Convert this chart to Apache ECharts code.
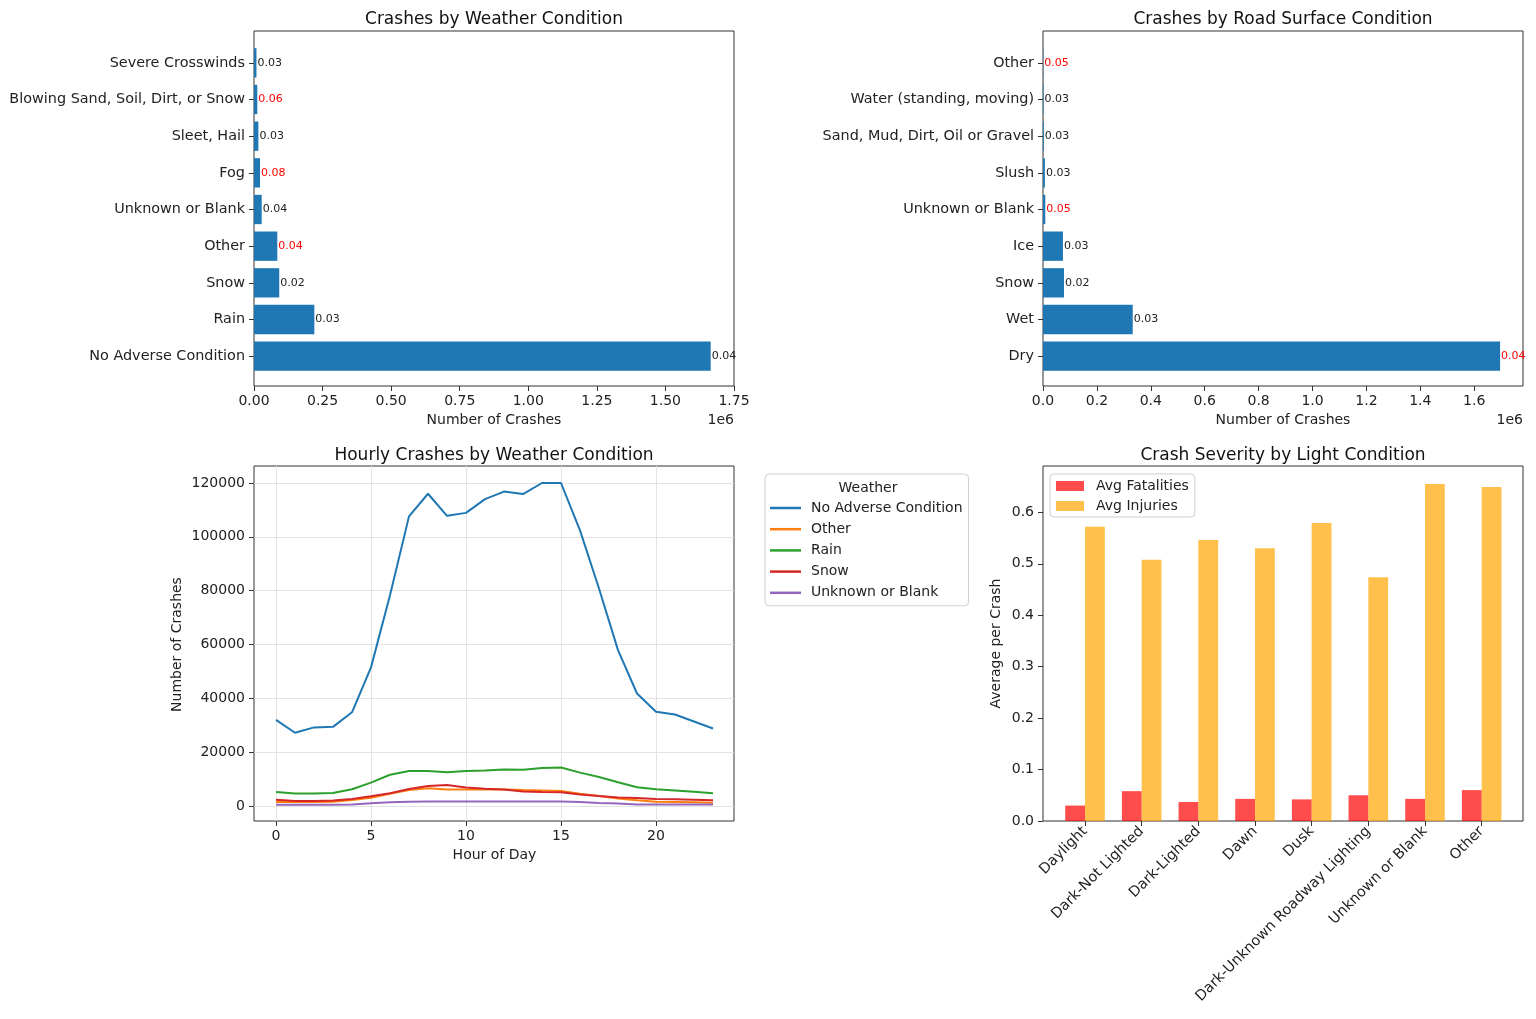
<!DOCTYPE html>
<html>
<head>
<meta charset="utf-8">
<script src="https://cdn.jsdelivr.net/npm/echarts@6/dist/echarts.min.js"></script>
<style>
  html, body { margin: 0; padding: 0; background: #fff; }
  #chart { width: 1536px; height: 1019px; }
</style>
</head>
<body>
<div id="chart"></div>
<script>
// ---- data -----------------------------------------------------------------
const weatherCats = ['Severe Crosswinds', 'Blowing Sand, Soil, Dirt, or Snow', 'Sleet, Hail', 'Fog',
  'Unknown or Blank', 'Other', 'Snow', 'Rain', 'No Adverse Condition'];
const weatherCrashes = [9000, 12000, 16000, 22000, 28000, 85000, 92000, 220000, 1665000];
const weatherFatalRate = [0.03, 0.06, 0.03, 0.08, 0.038, 0.044, 0.02, 0.03, 0.036];

const surfaceCats = ['Other', 'Water (standing, moving)', 'Sand, Mud, Dirt, Oil or Gravel', 'Slush',
  'Unknown or Blank', 'Ice', 'Snow', 'Wet', 'Dry'];
const surfaceCrashes = [1000, 2000, 3000, 7000, 8500, 74000, 78000, 333000, 1696000];
const surfaceFatalRate = [0.05, 0.03, 0.03, 0.03, 0.05, 0.03, 0.02, 0.03, 0.042];

const hours = ['0', '1', '2', '3', '4', '5', '6', '7', '8', '9', '10', '11',
  '12', '13', '14', '15', '16', '17', '18', '19', '20', '21', '22', '23'];
const hourlyNoAdverse = [32000, 27200, 29200, 29400, 34800, 51500, 78300, 107600, 116000, 107800, 108900, 114000,
  116800, 115900, 120000, 120000, 102400, 80800, 57900, 41800, 35000, 34000, 31400, 28800];
const hourlyOther = [1500, 1500, 1500, 1600, 2200, 3100, 4500, 5900, 6600, 6100, 6100, 6200,
  6100, 5900, 5800, 5600, 4600, 3700, 2800, 2100, 1600, 1500, 1400, 1200];
const hourlyRain = [5200, 4600, 4600, 4800, 6200, 8700, 11600, 13000, 13000, 12500, 13000, 13200,
  13600, 13500, 14100, 14300, 12400, 10800, 8800, 7000, 6200, 5800, 5300, 4700];
const hourlySnow = [2350, 1900, 1900, 2000, 2600, 3600, 4700, 6300, 7400, 7800, 6900, 6400,
  6100, 5400, 5200, 5100, 4300, 3700, 3200, 3000, 2600, 2500, 2350, 2100];
const hourlyUnknown = [500, 500, 500, 500, 600, 1000, 1400, 1600, 1700, 1700, 1700, 1700,
  1700, 1700, 1700, 1700, 1500, 1100, 900, 600, 600, 600, 600, 600];

const lightCats = ['Daylight', 'Dark-Not Lighted', 'Dark-Lighted', 'Dawn', 'Dusk',
  'Dark-Unknown Roadway Lighting', 'Unknown or Blank', 'Other'];
const avgFatalities = [0.030, 0.058, 0.037, 0.043, 0.042, 0.050, 0.043, 0.060];
const avgInjuries = [0.572, 0.508, 0.546, 0.530, 0.579, 0.474, 0.655, 0.649];

// ---- helpers --------------------------------------------------------------
const FONT = 'DejaVu Sans';
const ink = '#222';
const spine = '#333';

function rateItems(values, rates) {
  return values.map((v, i) => ({
    value: v,
    label: { color: rates[i] > 0.04 ? '#ff0000' : ink, formatter: rates[i].toFixed(2) }
  }));
}

function frameGrid(left, top) {
  return { left: left, top: top, width: 480, height: 355, show: true,
    borderColor: spine, borderWidth: 1, backgroundColor: 'transparent' };
}

const tick = { show: true, length: 5, lineStyle: { color: spine } };
const label = { color: ink, fontFamily: FONT, fontSize: 14 };
const nameStyle = { color: ink, fontFamily: FONT, fontSize: 14 };

function hiddenValue(gridIndex, min, max) {
  return { type: 'value', gridIndex: gridIndex, show: false, min: min, max: max };
}

const chart = echarts.init(document.getElementById('chart'));

const option = {
  animation: false,
  backgroundColor: '#fff',
  textStyle: { fontFamily: FONT },
  grid: [
    frameGrid(254, 31),                                   // 0 weather frame
    { left: 254, top: 44.5, width: 480, height: 330 },    // 1 weather bars
    frameGrid(1043, 31),                                  // 2 surface frame
    { left: 1043, top: 44.5, width: 480, height: 330 },   // 3 surface bars
    frameGrid(254, 466),                                  // 4 hourly frame
    { left: 254, top: 483, width: 480, height: 323 },     // 5 hourly y axis
    { left: 276, top: 466, width: 437, height: 355 },     // 6 hourly lines
    frameGrid(1043, 466),                                 // 7 severity frame
    { left: 1056.7, top: 466, width: 453.3, height: 355 } // 8 severity bars
  ],
  xAxis: [
    { type: 'value', gridIndex: 0, min: 0, max: 1750000, interval: 250000,
      axisLine: { show: false, onZero: false }, axisTick: tick, splitLine: { show: false },
      axisLabel: Object.assign({ margin: 8, formatter: v => (v / 1e6).toFixed(2) }, label),
      name: 'Number of Crashes', nameLocation: 'middle', nameGap: 27, nameTextStyle: nameStyle },
    hiddenValue(1, 0, 1750000),
    { type: 'value', gridIndex: 2, min: 0, max: 1781000, interval: 200000,
      axisLine: { show: false, onZero: false }, axisTick: tick, splitLine: { show: false },
      axisLabel: Object.assign({ margin: 8, showMaxLabel: false, formatter: v => (v / 1e6).toFixed(1) }, label),
      name: 'Number of Crashes', nameLocation: 'middle', nameGap: 27, nameTextStyle: nameStyle },
    hiddenValue(3, 0, 1781000),
    hiddenValue(4, 0, 1),
    hiddenValue(5, 0, 1),
    { type: 'category', gridIndex: 6, data: hours, boundaryGap: false,
      axisLine: { show: false, onZero: false },
      axisTick: Object.assign({ interval: 4 }, tick),
      splitLine: { show: true, interval: 4, lineStyle: { color: '#e3e3e3', width: 1 } },
      axisLabel: Object.assign({ margin: 8, interval: 4 }, label),
      name: 'Hour of Day', nameLocation: 'middle', nameGap: 27, nameTextStyle: nameStyle },
    hiddenValue(7, 0, 1),
    { type: 'category', gridIndex: 8, data: lightCats,
      axisLine: { show: false, onZero: false },
      axisTick: Object.assign({ alignWithLabel: true }, tick),
      axisLabel: Object.assign({ margin: 8, rotate: 45, interval: 0 }, label, { fontSize: 14.5 }) }
  ],
  yAxis: [
    hiddenValue(0, 0, 1),
    { type: 'category', gridIndex: 1, data: weatherCats, inverse: true,
      axisLine: { show: false, onZero: false },
      axisTick: Object.assign({ alignWithLabel: true }, tick),
      axisLabel: Object.assign({ margin: 9, interval: 0 }, label, { fontSize: 14.4 }) },
    hiddenValue(2, 0, 1),
    { type: 'category', gridIndex: 3, data: surfaceCats, inverse: true,
      axisLine: { show: false, onZero: false },
      axisTick: Object.assign({ alignWithLabel: true }, tick),
      axisLabel: Object.assign({ margin: 9, interval: 0 }, label, { fontSize: 14.4 }) },
    hiddenValue(4, 0, 1),
    { type: 'value', gridIndex: 5, min: 0, max: 120000, interval: 20000,
      axisLine: { show: false, onZero: false }, axisTick: tick,
      splitLine: { show: true, lineStyle: { color: '#e3e3e3', width: 1 } },
      axisLabel: Object.assign({ margin: 9, formatter: v => String(v) }, label),
      name: 'Number of Crashes', nameLocation: 'middle', nameGap: 70, nameTextStyle: nameStyle },
    hiddenValue(6, -5573, 126316),
    { type: 'value', gridIndex: 7, min: 0, max: 0.69, interval: 0.1,
      axisLine: { show: false, onZero: false }, axisTick: tick, splitLine: { show: false },
      axisLabel: Object.assign({ margin: 9, showMaxLabel: false, formatter: v => v.toFixed(1) }, label),
      name: 'Average per Crash', nameLocation: 'middle', nameGap: 40, nameTextStyle: nameStyle },
    hiddenValue(8, 0, 0.69)
  ],
  legend: [
    { data: ['No Adverse Condition', 'Other', 'Rain', 'Snow', 'Unknown or Blank'],
      orient: 'vertical', left: 765, top: 474, icon: 'rect',
      padding: [27, 6, 6, 5], itemGap: 7.2, itemWidth: 31, itemHeight: 2.5,
      backgroundColor: '#fff', borderColor: '#d0d0d0', borderWidth: 1, borderRadius: 4,
      textStyle: { color: ink, fontFamily: FONT, fontSize: 14, padding: [0, 0, 0, 5] } },
    { data: ['Avg Fatalities', 'Avg Injuries'], orient: 'vertical', left: 1050, top: 474,
      icon: 'rect', itemWidth: 28, itemHeight: 10, itemGap: 6,
      padding: [5, 6, 4, 6], backgroundColor: '#fff', borderColor: '#d0d0d0', borderWidth: 1, borderRadius: 4,
      textStyle: { color: ink, fontFamily: FONT, fontSize: 14, padding: [0, 0, 0, 7] } }
  ],
  graphic: [
    { type: 'text', x: 494, y: 20, style: { text: 'Crashes by Weather Condition', font: '17px ' + FONT, fill: '#111', align: 'center', verticalAlign: 'middle' } },
    { type: 'text', x: 1283, y: 20, style: { text: 'Crashes by Road Surface Condition', font: '17px ' + FONT, fill: '#111', align: 'center', verticalAlign: 'middle' } },
    { type: 'text', x: 494, y: 456, style: { text: 'Hourly Crashes by Weather Condition', font: '17px ' + FONT, fill: '#111', align: 'center', verticalAlign: 'middle' } },
    { type: 'text', x: 1283, y: 456, style: { text: 'Crash Severity by Light Condition', font: '17px ' + FONT, fill: '#111', align: 'center', verticalAlign: 'middle' } },
    { type: 'text', x: 734, y: 420, style: { text: '1e6', font: '14px ' + FONT, fill: ink, align: 'right', verticalAlign: 'middle' } },
    { type: 'text', x: 1523, y: 420, style: { text: '1e6', font: '14px ' + FONT, fill: ink, align: 'right', verticalAlign: 'middle' } },
    { type: 'text', x: 868, y: 488, z: 100, style: { text: 'Weather', font: '14px ' + FONT, fill: ink, align: 'center', verticalAlign: 'middle' } }
  ],
  series: [
    { type: 'bar', name: 'weather', xAxisIndex: 1, yAxisIndex: 1, barCategoryGap: '20%',
      itemStyle: { color: '#1f77b4' },
      label: { show: true, position: 'right', distance: 1, fontFamily: FONT, fontSize: 11 },
      data: rateItems(weatherCrashes, weatherFatalRate) },
    { type: 'bar', name: 'surface', xAxisIndex: 3, yAxisIndex: 3, barCategoryGap: '20%',
      itemStyle: { color: '#1f77b4' },
      label: { show: true, position: 'right', distance: 1, fontFamily: FONT, fontSize: 11 },
      data: rateItems(surfaceCrashes, surfaceFatalRate) },
    { type: 'line', name: 'No Adverse Condition', xAxisIndex: 6, yAxisIndex: 6, symbol: 'none',
      color: '#1f77b4', lineStyle: { width: 2 }, data: hourlyNoAdverse },
    { type: 'line', name: 'Other', xAxisIndex: 6, yAxisIndex: 6, symbol: 'none',
      color: '#ff7f0e', lineStyle: { width: 2 }, data: hourlyOther },
    { type: 'line', name: 'Rain', xAxisIndex: 6, yAxisIndex: 6, symbol: 'none',
      color: '#2ca02c', lineStyle: { width: 2 }, data: hourlyRain },
    { type: 'line', name: 'Snow', xAxisIndex: 6, yAxisIndex: 6, symbol: 'none',
      color: '#d62728', lineStyle: { width: 2 }, data: hourlySnow },
    { type: 'line', name: 'Unknown or Blank', xAxisIndex: 6, yAxisIndex: 6, symbol: 'none',
      color: '#9467bd', lineStyle: { width: 2 }, data: hourlyUnknown },
    { type: 'bar', name: 'Avg Fatalities', xAxisIndex: 8, yAxisIndex: 8, barWidth: 19.8, barGap: '0%',
      itemStyle: { color: 'rgba(255,0,0,0.7)' }, data: avgFatalities },
    { type: 'bar', name: 'Avg Injuries', xAxisIndex: 8, yAxisIndex: 8, barWidth: 19.8, barGap: '0%',
      itemStyle: { color: 'rgba(255,165,0,0.7)' }, data: avgInjuries }
  ]
};

chart.setOption(option);
</script>
</body>
</html>
